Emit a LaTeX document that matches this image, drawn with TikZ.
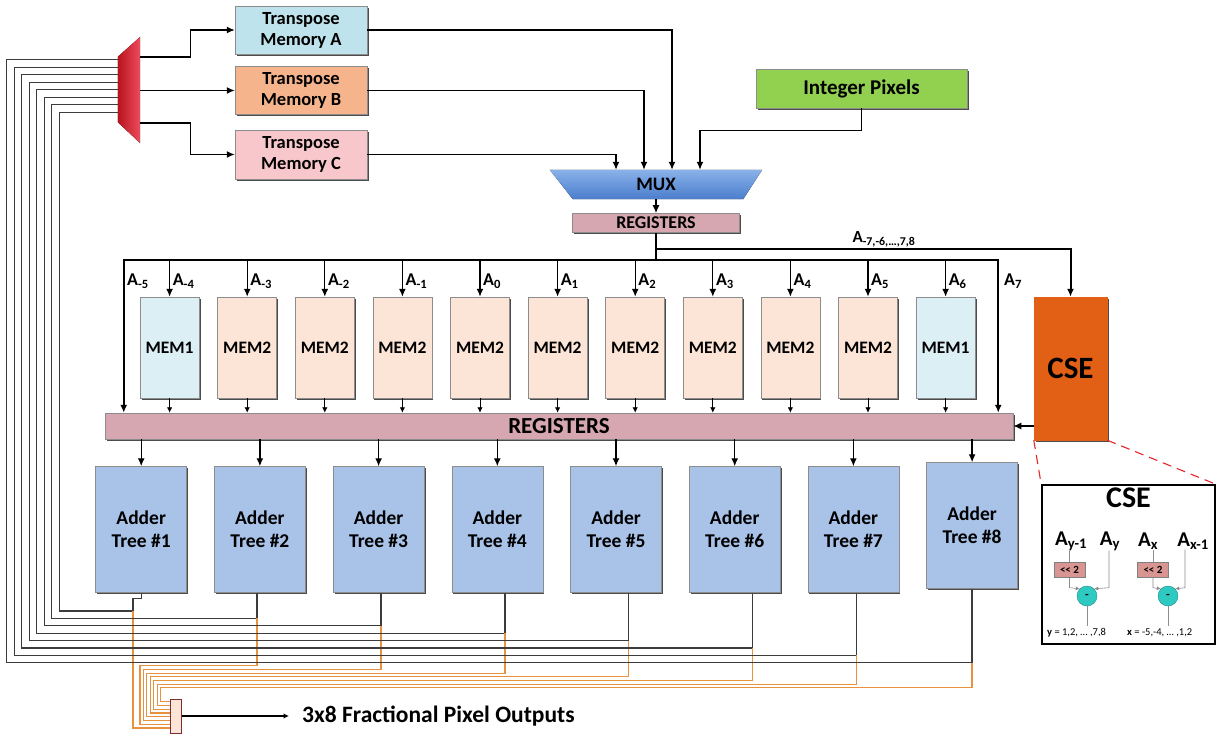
\documentclass[tikz,border=0pt]{standalone}
\usepackage{fontspec}
\setmainfont{Carlito}
\usetikzlibrary{positioning, arrows.meta, calc, shadows, backgrounds}

\definecolor{tpAfill}{HTML}{BFE3EC}
\definecolor{tpBfill}{HTML}{F5B48C}
\definecolor{tpCfill}{HTML}{F8C7CC}
\definecolor{intfill}{HTML}{92D050}
\definecolor{regfill}{HTML}{D6A7B1}
\definecolor{memAfill}{HTML}{DCEFF4}
\definecolor{memBfill}{HTML}{FCE5D7}
\definecolor{addfill}{HTML}{A8C2E8}
\definecolor{csefill}{HTML}{E25F16}
\definecolor{muxtop}{HTML}{8AB2EA}
\definecolor{muxbot}{HTML}{4A7DCC}
\definecolor{dmxdark}{HTML}{B8141E}
\definecolor{dmxlight}{HTML}{EE4C5C}
\definecolor{wire}{HTML}{3C3C3C}
\definecolor{owire}{HTML}{E8923F}
\definecolor{shiftfill}{HTML}{D99591}
\definecolor{subfill}{HTML}{2EC9C0}
\definecolor{cutred}{HTML}{E4262C}
\definecolor{regborder}{HTML}{7A2E34}

\newcommand{\fsz}[2]{\fontsize{#1}{#2}\selectfont}

\tikzset{
  box/.style={
    draw=black!45, line width=0.5pt, align=center, inner sep=0pt,
    font=\bfseries\fsz{18.5}{21},
    general shadow={fill=black!70, shadow xshift=1.5pt, shadow yshift=-1.5pt}
  },
  tpmem/.style={box, minimum width=132, minimum height=48},
  regbox/.style={box, fill=regfill},
  membox/.style={box, minimum width=59, minimum height=101, font=\bfseries\fsz{17.5}{21}},
  addbox/.style={box, fill=addfill, minimum width=91, minimum height=126, font=\bfseries\fsz{19.5}{23}},
  ghost/.style={inner sep=0pt},
  % Arrows
  arr/.style={-{Latex[length=8pt,width=7pt]}, line width=1.3pt},
  arrs/.style={-{Latex[length=5.5pt,width=5.5pt]}, line width=0.9pt},
  % Feedback and output wires
  wireB/.style={draw=wire, line width=1.1pt},
  wireO/.style={draw=owire, line width=1.1pt},
  cutline/.style={draw=cutred, line width=1.1pt, dash pattern=on 9pt off 6pt},
  % Labels
  alab/.style={font=\bfseries\fsz{18}{20}, inner sep=1pt},
  dlab/.style={font=\bfseries\fsz{21}{24}, inner sep=0pt},
  dline/.style={draw=black!45, line width=0.6pt},
}

\begin{document}
\begin{tikzpicture}[x=1pt, y=-1pt]
  \useasboundingbox (0,0) rectangle (1225,736);

  %% ── Transpose memories and inputs ──
  \node[tpmem, fill=tpAfill] (tpA) at (301,30) {Transpose\\Memory A};
  \node[tpmem, fill=tpBfill, below=12pt of tpA] (tpB) {Transpose\\Memory B};
  \node[tpmem, fill=tpCfill, minimum height=49, below=15pt of tpB] (tpC) {Transpose\\Memory C};
  \node[box, fill=intfill, minimum width=211, minimum height=39,
        font=\bfseries\fsz{21}{24}] (intpix) at (861.5,88.5) {Integer Pixels};

  %% ── Demux ──
  \node[ghost, minimum width=22, minimum height=106] (demux) at (129,90) {};
  \fill[left color=dmxdark, right color=dmxlight]
    (demux.north east) -- (demux.south east)
    -- ([yshift=21pt]demux.south west) -- ([yshift=-20pt]demux.north west) -- cycle;

  %% ── MUX and first registers ──
  \node[ghost, minimum width=212, minimum height=29, font=\bfseries\fsz{19}{22}] (mux) at (656,184.5) {MUX};
  \begin{scope}[on background layer]
    \fill[top color=muxtop, bottom color=muxbot]
      (mux.north west) -- (mux.north east)
      -- ([xshift=-19pt]mux.south east) -- ([xshift=23pt]mux.south west) -- cycle;
  \end{scope}
  \node[regbox, minimum width=167, minimum height=19, font=\bfseries\fsz{18}{19},
        below=14pt of mux] (regS) {REGISTERS};

  %% ── Memories ──
  \foreach \k/\mt/\mf in {0/MEM1/memAfill, 1/MEM2/memBfill, 2/MEM2/memBfill, 3/MEM2/memBfill,
                          4/MEM2/memBfill, 5/MEM2/memBfill, 6/MEM2/memBfill, 7/MEM2/memBfill,
                          8/MEM2/memBfill, 9/MEM2/memBfill, 10/MEM1/memAfill}{
    \pgfmathsetmacro{\cx}{169.6+77.6*\k}
    \pgfmathtruncatemacro{\s}{\k-4}
    \node[membox, fill=\mf] (mem\k) at (\cx,347.5) {\mt};
    \node[alab, anchor=west] (lab\k) at (\cx+2,281) {A\textsubscript{\s}};
  }
  \node[alab, anchor=west] (labL) at (126,281) {A\textsubscript{-5}};
  \node[alab, anchor=west] (labR) at (1003,281) {A\textsubscript{7}};

  %% ── Second registers, adder trees, CSE ──
  \node[regbox, minimum width=908, minimum height=26, font=\bfseries\fsz{23}{25}] (regL) at (559,426) {REGISTERS};
  \foreach \k in {1,...,8}{
    \pgfmathsetmacro{\cx}{141.2+118.7*(\k-1)}
    \pgfmathsetmacro{\cy}{\k==8 ? 525.5 : 529.5}
    \node[addbox] (add\k) at (\cx,\cy) {Adder\\Tree \#\k};
  }
  \node[box, fill=csefill, draw=csefill, minimum width=73, minimum height=143,
        font=\bfseries\fsz{31}{34}] (cse) at (1070.5,368.5) {CSE};

  %% ── Connections to MUX ──
  \draw[arr] ([yshift=33pt]demux.east) -- ++(50,0) |- (tpA.west);
  \draw[arr] (demux.east |- tpB.west) -- (tpB.west);
  \draw[arr] ([yshift=-33pt]demux.east) -- ++(50,0) |- (tpC.west);
  \draw[arr] (tpA.east) -| ([xshift=16pt]mux.north);
  \draw[arr] (tpB.east) -| ([xshift=-12pt]mux.north);
  \draw[arr] (tpC.east) -| ([xshift=-40pt]mux.north);
  \draw[arr] (intpix.south) -- ++(0,22) -| ([xshift=44pt]mux.north);
  \draw[arr] (regS.north |- mux.south) -- (regS.north);

  %% ── Bus ──
  \draw[line width=1.6pt] (regS.south) -- ++(0,27) coordinate (bj);
  \draw[arr, line width=1.6pt] (bj) -| ([xshift=19pt]regL.north west);
  \draw[arr, line width=1.6pt] (bj) -| ([xshift=-15pt]regL.north east);
  \draw[arr, line width=2pt] ([yshift=-16pt]regS.south) -| node[pos=0.275, above, alab, font=\bfseries\fsz{17}{19}] (labAll)
    {A\textsubscript{-7,-6,\ldots,7,8}} (cse.north);
  \foreach \k in {0,...,10}{
    \draw[arr] (mem\k.north |- bj) -- (mem\k.north);
    \draw[arrs] (mem\k.south) -- (mem\k.south |- regL.north);
  }
  \foreach \k in {1,...,8}
    \draw[arr] (add\k.north |- regL.south) -- (add\k.north);
  \draw[arr] (cse.west |- regL.east) -- (regL.east);

  %% ── Output register ──
  \node[draw=regborder, fill=memBfill, line width=1pt, minimum width=11, minimum height=34,
        inner sep=0pt] (outreg) at (176.2,716) {};
  \node[font=\bfseries\fsz{23.5}{26}, anchor=west, inner sep=0pt] (outtxt) at (302,716) {3x8 Fractional Pixel Outputs};
  \draw[arrs, line width=1.1pt] (outreg.east) -- ([xshift=-13pt]outtxt.west);

  %% ── Feedback wires ──
  \coordinate (o1) at (133,611);
  \coordinate (d1) at (59.3,112.3);
  \coordinate (u1) at (133,728);
  \draw[wireB] (add1.south) -- ++(0,6) -| (o1) -| (d1) -- (demux.west |- d1);
  \draw[wireO] (o1) -- (u1) -- (outreg.west |- u1);
  \foreach \k/\ox in {2/257, 3/381, 4/505, 5/628.7, 6/752.7, 7/856.7, 8/972}{
    \pgfmathsetmacro{\by}{611+7.4*(\k-1)}
    \pgfmathsetmacro{\lx}{59.3-7.5*(\k-1)}
    \pgfmathsetmacro{\dy}{112.3-7.5*(\k-1)}
    \pgfmathsetmacro{\oy}{665.7+3.7*(\k-2)}
    \pgfmathsetmacro{\ux}{140+3.45*(\k-2)}
    \pgfmathsetmacro{\bb}{728-3.76*(\k-1)}
    \coordinate (o\k) at (\ox,\by);
    \coordinate (d\k) at (\lx,\dy);
    \coordinate (p\k) at (\ox,\oy);
    \coordinate (u\k) at (\ux,\bb);
    \draw[wireB] (add\k.south -| o\k) -- (o\k) -| (d\k) -- (demux.west |- d\k);
    \draw[wireO] (o\k) -- (p\k) -| (u\k) -- (outreg.west |- u\k);
  }

  %% ── CSE detail ──
  \node[draw, line width=1.6pt, minimum width=173, minimum height=159, inner sep=0pt] (cseD) at (1128.5,564.5) {};
  \draw[cutline] (cse.south west) -- (cseD.north west);
  \draw[cutline] (cse.south east) -- (cseD.north east);
  \node[font=\bfseries\fsz{30}{32}, below=3pt of cseD.north, inner sep=0pt] (cseT) {CSE};
  \node[dlab] (ay1) at (1071,541) {A\textsubscript{y-1}};
  \node[dlab] (ay) at (1110,541) {A\textsubscript{y}};
  \node[dlab] (ax) at (1148,541) {A\textsubscript{x}};
  \node[dlab] (ax1) at (1193,541) {A\textsubscript{x-1}};
  \foreach \n/\x in {sh1/1069.5, sh2/1153}
    \node[draw=black!50, fill=shiftfill, minimum width=31, minimum height=15, inner sep=0pt,
          font=\bfseries\fsz{11}{12}] (\n) at (\x,570) {<{}< 2};
  \foreach \n/\x in {c1/1087, c2/1168}
    \node[circle, fill=subfill, draw=subfill!70!black, minimum size=20, inner sep=0pt,
          font=\bfseries\fsz{12}{12}] (\n) at (\x,596) {-};
  \draw[dline] (sh1.north |- ay1.south) -- (sh1.north);
  \draw[dline] (sh2.north |- ax.south) -- (sh2.north);
  \draw[dline, -{Latex[length=4pt,width=4pt]}] (sh1.south) -- ++(0,10) -- (c1.north west);
  \draw[dline, -{Latex[length=4pt,width=4pt]}] (sh2.south) -- ++(0,10) -- (c2.north west);
  \draw[dline, -{Latex[length=4pt,width=4pt]}] ([xshift=-1pt]ay.south) -- ($([xshift=-1pt]ay.south |- sh1.south)+(0,10)$) -- (c1.north east);
  \draw[dline, -{Latex[length=4pt,width=4pt]}] ([xshift=-8pt]ax1.south) -- ($([xshift=-8pt]ax1.south |- sh2.south)+(0,10)$) -- (c2.north east);
  \draw[dline] (c1.south) -- ++(0,20);
  \draw[dline] (c2.south) -- ++(0,20);
  \node[font=\fsz{10.5}{12}, anchor=west, inner sep=0pt] (ytxt) at (1047,633) {\textbf{y} = 1,2, \ldots\ ,7,8};
  \node[font=\fsz{10.5}{12}, anchor=west, inner sep=0pt] (xtxt) at (1127,633) {\textbf{x} = -5,-4, \ldots\ ,1,2};

\end{tikzpicture}
\end{document}
